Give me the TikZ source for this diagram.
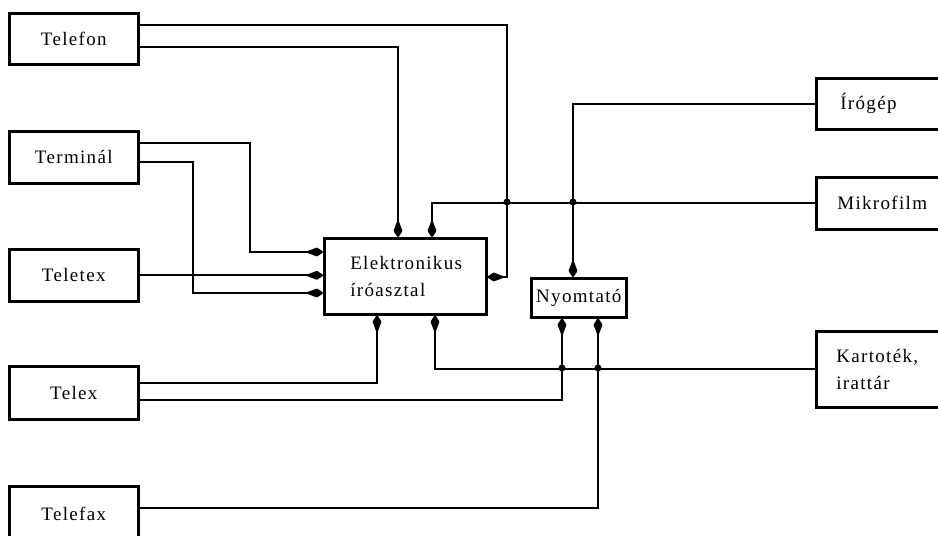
\documentclass[tikz,border=0pt]{standalone}
\usepackage{fontspec}
\setmainfont{Liberation Serif}[LetterSpace=7]
\usetikzlibrary{arrows.meta}
\begin{document}
\begin{tikzpicture}[x=1pt,y=-1pt,
  box/.style={draw, line width=2.6pt, inner sep=0pt, anchor=north west,
    font=\fontsize{19}{27}\selectfont},
  lbox/.style={box, minimum width=129pt},
  rbox/.style={box, align=left, inner xsep=24pt, text width=92pt},
  link/.style={line width=2.2pt},
  arr/.style={link, -{Kite[length=19pt,width=9pt,inset=12pt,round]}},
  dot/.style={circle, fill, inner sep=0pt, minimum size=7pt}]
\useasboundingbox (0,0) rectangle (938,536);

% left column
\node[lbox, minimum height=51pt] (telefon) at (8,12) {Telefon};
\node[lbox, minimum height=52pt] (term) at (8,130) {Terminál};
\node[lbox, minimum height=52pt] (teletex) at (8,248) {Teletex};
\node[lbox, minimum height=53pt] (telex) at (8,365) {Telex};
\node[lbox, minimum height=56pt] (telefax) at (8,485) {Telefax};

% centre
\node[box, minimum height=76pt, align=left, inner xsep=26pt, text width=110pt] (elek) at (323,237) {Elektronikus\\íróasztal};
\node[box, minimum width=95pt, minimum height=39pt] (nyom) at (530,277) {Nyomtató};

% right column
\node[rbox, minimum height=51pt] (irogep) at (815,77) {Írógép};
\node[rbox, minimum height=52pt, inner xsep=21pt, text width=98pt] (mikro) at (815,176) {Mikrofilm};
\node[rbox, minimum height=76pt, inner xsep=20pt, text width=100pt] (kart) at (815,330) {Kartoték,\\irattár};

% connectors
\draw[arr] (telefon.east |- 0,25) -- (507,25) -- (507,277) -- (elek.east |- 0,277);
\draw[arr] (telefon.east |- 0,47) -| (elek.north -| 398,0);
\draw[arr] (mikro.west) -| (elek.north -| 432,0);
\draw[arr] (irogep.west) -| (nyom.north -| 573,0);
\draw[arr] (term.east |- 0,143) -| (250,252) -- (elek.west |- 0,252);
\draw[arr] (term.east |- 0,162) -| (193,293) -- (elek.west |- 0,293);
\draw[arr] (teletex.east) -- (elek.west |- teletex.east);
\draw[arr] (telex.east |- 0,383) -| (elek.south -| 377,0);
\draw[arr] (telex.east |- 0,400) -| (nyom.south -| 562,0);
\draw[arr] (telefax.east |- 0,508) -| (nyom.south -| 598,0);
\draw[arr] (kart.west) -| (elek.south -| 435,0);

% junctions
\node[dot] (j1) at (507,202) {};
\node[dot] (j2) at (573,202) {};
\node[dot] (j3) at (562,368) {};
\node[dot] (j4) at (598,368) {};
\end{tikzpicture}
\end{document}
